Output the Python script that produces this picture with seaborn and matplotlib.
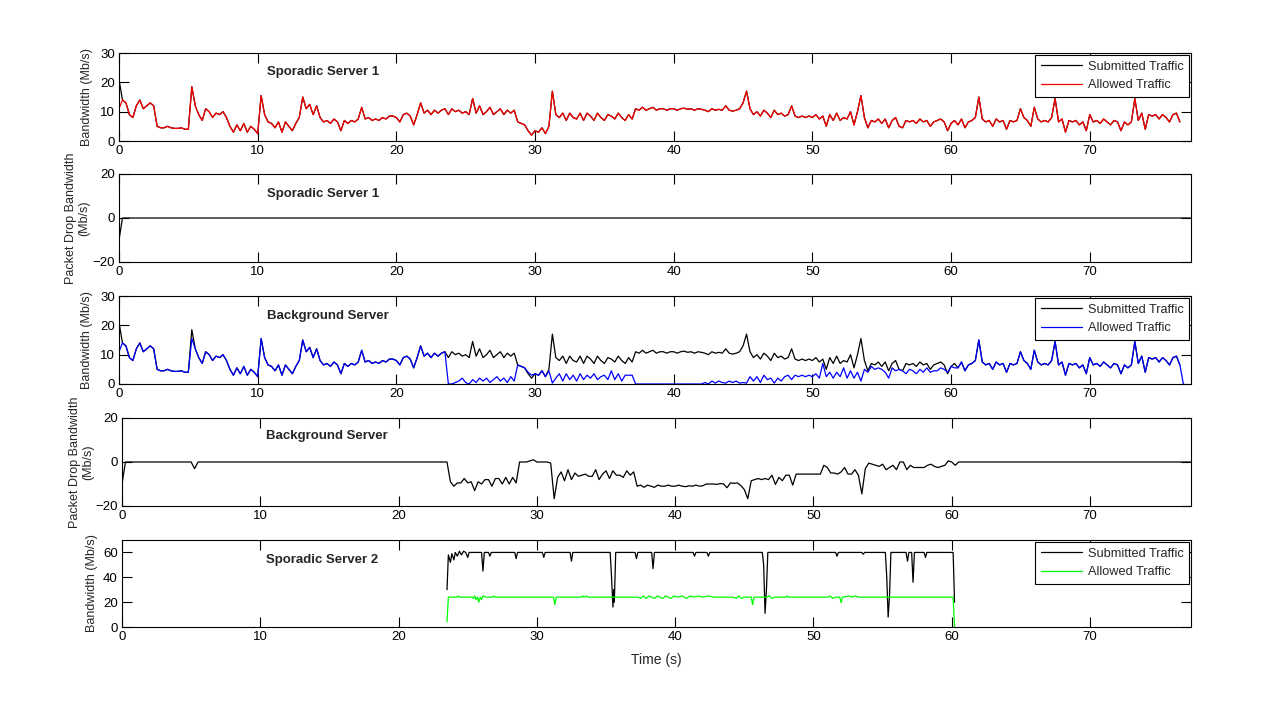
import numpy as np
import matplotlib
matplotlib.use("Agg")
import matplotlib.pyplot as plt
import seaborn as sns

# ---------------- data ----------------
dt = 0.25  # sampling step of the traffic traces (s)

# Sporadic Server 1 traffic (Mb/s), t = 0, 0.25, ... 76.5
traffic = [
    11, 14, 13, 9, 8, 12, 14, 11, 12, 13, 12, 5, 4.5, 4.5, 5, 4.5, 4.3, 4.3, 4.5, 4.0,
    4.0, 18.5, 12, 9, 7, 11, 10, 8, 9.5, 9, 10, 8, 5, 3, 5.5, 3.5, 6, 3, 5, 4,
    2.5, 15.5, 9, 6.5, 6, 4.5, 6.5, 3, 6.5, 5, 3.5, 6, 8, 15, 11, 12.5, 9, 12, 8, 6.5,
    7, 6, 7.5, 6.5, 3.5, 7, 6, 7, 6.5, 7.5, 11.5, 7.5, 8, 7, 7.5, 7, 8, 7.5, 8.5, 8.5,
    8, 6.5, 9, 9.5, 8.5, 5.5, 9, 13, 9.5, 10.5, 9, 10.5, 9.5, 10.5, 11, 9, 11, 10, 10.5, 9.5,
    10, 9, 14.5, 9.5, 12, 9, 10, 11.5, 9, 10, 11, 9, 10.5, 9.5, 10.5, 6.5, 6, 5.5, 3.5, 2,
    3.5, 3, 4.5, 2.5, 5, 17, 9, 8, 9.5, 7, 9.5, 8, 7.5, 9.5, 7, 9.5, 8.5, 7, 9.5, 8,
    7, 9, 8.5, 7.5, 9.5, 8, 7, 9, 7.5, 11, 10.5, 11.5, 10.5, 11, 11.5, 10.5, 11, 11, 10.5, 11,
    11, 10.5, 11, 11.2, 10.8, 11, 10.5, 11, 10.8, 10.5, 10, 11, 10.5, 10.8, 10.5, 12, 10.5, 10.2, 10.5, 11,
    13, 17, 11, 9, 10, 8.5, 10.5, 9.5, 8, 10.5, 9, 9.5, 8.5, 9, 12, 8.5, 8, 8.5, 8, 8.5,
    8, 9, 7.5, 8.5, 5, 9, 7, 9.5, 7, 8, 7.5, 10, 5.5, 10, 15.5, 8, 4.5, 7, 6.5, 7.5,
    6, 7.5, 4.5, 7, 8, 5, 4.5, 7, 6.5, 7, 6, 7.5, 6.5, 7, 5, 6.5, 7, 7.5, 6.5, 3.5,
    6, 7, 5.5, 7.5, 4.5, 6.5, 7, 8, 15, 7.5, 6.5, 7, 5, 7.5, 6.5, 7, 4, 7, 6.5, 7,
    11, 8, 7, 5, 11.5, 7.5, 6.5, 7, 6.5, 8, 14.5, 6.5, 7.5, 3, 7, 6.5, 7, 5.5, 6.5, 3.5,
    9, 6.5, 7, 6, 7.5, 6.5, 5.5, 7, 6.5, 3.5, 6.5, 5.5, 6.5, 14.5, 7, 9.5, 4, 9, 8.5, 9,
    7.5, 9, 8, 6.5, 9, 9.5, 6.5,
]
first_submitted = 21.0      # submitted burst in the very first sample

# Background server allowed traffic while Sporadic Server 2 is active (t = 23.75 ... 60.25)
bg_mid_start = 23.75
bg_allowed_mid = [
    0, 0, 0.5, 1, 2, 0.5, 0, 1.5, 0.5, 2, 1, 2, 0.5, 1.5, 2.5, 1, 2, 0.5, 2.5, 1,
    6.5, 6, 5.5, 4, 3, 3.5, 3, 4.5, 2.5, 4.5,
    0.3, 2, 3.5, 1, 3.5, 1.5, 3, 1, 3.5, 1.5, 3, 2, 3.5, 1.5, 2.5, 3, 1.5, 4.5, 1.5, 3.5,
    1, 3, 3, 3,
    0, 0, 0, 0, 0, 0, 0, 0, 0, 0, 0, 0, 0, 0, 0, 0, 0, 0, 0, 0,
    0.5, 0, 1, 0.3, 1, 0.5, 0.3, 1, 0.5, 1, 0.3, 0.5, 0.3, 2.5, 1, 2.5, 0.5, 3, 1.5, 2,
    0.3, 2, 1, 2.5, 3, 1.5, 3, 2.5, 3, 2.5, 3, 2.5, 3.5, 2, 7, 2.5, 4, 2, 4, 2.5,
    5.5, 2, 4.5, 2, 4, 1, 5, 4, 6, 5, 5.5, 5, 4, 2, 5.5, 4.5, 5, 4.5, 3.5, 5,
    4.5, 3.5, 5, 4, 5.5, 4, 4.5, 4.5, 5.5, 5, 4, 6, 5.5,
]
bg_spike_time, bg_spike_allowed = 5.25, 15.5
end_time = 77.25

# Sporadic Server 2 (Mb/s)
ss2_sub_t = [23.5, 23.6, 23.75, 23.85, 24.0, 24.1, 24.25, 24.4, 24.55, 24.7, 24.85, 25.0, 25.1,
             26.0, 26.1, 26.2, 26.5, 26.6, 26.7, 28.4, 28.5, 28.6, 30.4, 30.5, 30.6,
             32.4, 32.5, 32.6, 35.3, 35.4, 35.5, 35.55, 35.6, 35.7, 37.1, 37.2, 37.3,
             38.3, 38.4, 38.5, 41.3, 41.4, 41.5, 42.3, 42.4, 42.5, 46.3, 46.4, 46.5, 46.6, 46.7,
             51.6, 51.7, 51.8, 53.5, 53.6, 53.7, 55.2, 55.3, 55.4, 55.5, 55.6,
             56.7, 56.8, 56.9, 57.1, 57.2, 57.3, 58.0, 58.1, 58.2, 60.1, 60.2]
ss2_sub = [30, 58, 52, 59, 54, 60, 57, 61, 58, 61, 60, 56, 60,
           60, 45, 60, 60, 57, 60, 60, 55, 60, 60, 56, 60,
           60, 53, 60, 60, 40, 16, 30, 20, 60, 60, 55, 60,
           60, 47, 60, 60, 57, 60, 60, 57, 60, 60, 50, 11, 30, 60,
           60, 57, 60, 60, 58.5, 60, 60, 40, 8, 25, 60,
           60, 53, 60, 60, 36, 60, 60, 56, 60, 60, 20]
ss2_all_t = [23.5, 23.6, 24.2, 24.3, 24.4, 25.3, 25.4, 25.5, 25.6, 25.7, 25.8, 25.9, 26.0, 26.1, 26.3,
             26.8, 26.9, 27.0, 31.2, 31.3, 31.4, 33.2, 33.3, 33.4, 33.6, 33.7,
             37.3, 37.5, 37.7, 37.9, 38.1, 38.3, 38.5, 38.7, 38.9, 39.1, 39.3, 39.5, 39.7, 39.9,
             40.2, 40.5, 40.8, 41.1, 41.4, 41.7, 42.0, 42.4, 42.8,
             44.2, 44.4, 44.6, 44.8, 45.0, 45.5, 45.6, 45.7, 46.6, 46.8, 47.0, 47.2, 48.0, 48.1, 48.2,
             51.0, 51.2, 51.4, 51.6, 51.9, 52.0, 52.1, 52.6, 52.8, 53.0, 53.3, 60.1, 60.2]
ss2_all = [4, 24, 24, 25, 24, 24, 23, 25, 22, 24, 20, 24, 22, 25, 24,
           24, 25, 24, 24, 18, 24, 24, 25, 24, 25, 24,
           24, 23, 25, 23, 25, 24, 23, 25, 24, 23, 25, 24, 23, 25,
           24, 25, 23, 25, 24, 25, 24, 25, 24,
           24, 23, 25, 23, 24, 24, 18, 24, 24, 25, 23, 24, 24, 25, 24,
           24, 25, 23, 24, 24, 19.5, 24, 25, 24, 25, 24, 24, 0]

# ---------------- derived series ----------------
traffic = np.array(traffic, float)
t = np.arange(len(traffic)) * dt
ss1_sub = traffic.copy()
ss1_sub[0] = first_submitted
ss1_all = traffic.copy()
t_drop = np.append(t, end_time)
ss1_drop = np.append(ss1_all - ss1_sub, 0.0)

bg_sub = ss1_sub.copy()
bg_all = traffic.copy()
i0 = int(round(bg_mid_start / dt))
bg_all[i0:i0 + len(bg_allowed_mid)] = bg_allowed_mid
bg_all[int(round(bg_spike_time / dt))] = bg_spike_allowed
bg_drop = np.append(bg_all - bg_sub, 0.0)
t_bg_all = np.append(t, t[-1] + dt)
bg_all_plot = np.append(bg_all, 0.0)

# ---------------- figure ----------------
sns.set_style("ticks")
plt.rcParams["font.family"] = ["Liberation Sans", "DejaVu Sans"]
plt.rcParams["font.size"] = 9

W, H = 1281, 705
fig = plt.figure(figsize=(W / 100, H / 100), dpi=100)
fig.patch.set_facecolor("white")

def make_ax(left, top, right, bottom):
    return fig.add_axes([left / W, 1 - bottom / H, (right - left) / W, (bottom - top) / H])

axes = [
    make_ax(119, 53, 1191, 141),
    make_ax(119, 174, 1191, 262),
    make_ax(119, 296, 1191, 384),
    make_ax(122, 418, 1191, 506),
    make_ax(122, 540, 1191, 627),
]
lw = 0.9

a = axes[0]
sns.lineplot(x=t, y=ss1_sub, ax=a, color="black", lw=lw, label="Submitted Traffic", estimator=None, sort=False)
sns.lineplot(x=t, y=ss1_all, ax=a, color="red", lw=lw, label="Allowed Traffic", estimator=None, sort=False)
a = axes[1]
sns.lineplot(x=t_drop, y=ss1_drop, ax=a, color="black", lw=lw, estimator=None, sort=False)
a = axes[2]
sns.lineplot(x=t, y=bg_sub, ax=a, color="black", lw=lw, label="Submitted Traffic", estimator=None, sort=False)
sns.lineplot(x=t_bg_all, y=bg_all_plot, ax=a, color="blue", lw=lw, label="Allowed Traffic", estimator=None, sort=False)
a = axes[3]
sns.lineplot(x=t_drop, y=bg_drop, ax=a, color="black", lw=lw, estimator=None, sort=False)
a = axes[4]
sns.lineplot(x=ss2_sub_t, y=ss2_sub, ax=a, color="black", lw=lw, label="Submitted Traffic", estimator=None, sort=False)
sns.lineplot(x=ss2_all_t, y=ss2_all, ax=a, color="#00ff00", lw=lw, label="Allowed Traffic", estimator=None, sort=False)

titles = ["Sporadic Server 1", "Sporadic Server 1", "Background Server", "Background Server", "Sporadic Server 2"]
title_y = [0.78, 0.773, 0.773, 0.795, 0.77]
title_x = [0.138, 0.138, 0.138, 0.135, 0.135]
ylims = [(0, 30), (-20, 20), (0, 30), (-20, 20), (0, 70)]
yticks = [[0, 10, 20, 30], [-20, 0, 20], [0, 10, 20, 30], [-20, 0, 20], [0, 20, 40, 60]]
ylabels = ["Bandwidth (Mb/s)", "Packet Drop Bandwidth\n(Mb/s)", "Bandwidth (Mb/s)",
           "Packet Drop Bandwidth\n(Mb/s)", "Bandwidth (Mb/s)"]
ylab_x = [-0.024, -0.027, -0.024, -0.026, -0.022]

for i, a in enumerate(axes):
    a.set_xlim(0, 77.3)
    a.set_ylim(*ylims[i])
    a.set_xticks(range(0, 80, 10))
    a.set_yticks(yticks[i])
    a.tick_params(direction="in", top=True, right=True, length=7, width=0.8,
                  labelsize=9.5, pad=3, colors="black")
    for s in a.spines.values():
        s.set_visible(True)
        s.set_color("black")
        s.set_linewidth(0.8)
    a.set_ylabel(ylabels[i], fontsize=9, linespacing=1.1)
    a.yaxis.set_label_coords(ylab_x[i], 0.5)
    a.set_xlabel("")
    a.text(title_x[i], title_y[i], titles[i], transform=a.transAxes, fontsize=9.5,
           fontweight="bold", va="center", ha="left")
    if a.get_legend() is not None:
        a.get_legend().remove()
    if i in (0, 2, 4):
        leg = a.legend(loc="upper right", frameon=True, fancybox=False, edgecolor="black",
                       framealpha=1, borderaxespad=0.15, handlelength=3.2, fontsize=9.2,
                       borderpad=0.45, labelspacing=0.5, handletextpad=0.45)
        leg.get_frame().set_linewidth(0.8)

axes[4].set_xlabel("Time (s)", fontsize=10, labelpad=7)

fig.savefig("out.png", dpi=100, facecolor="white")
